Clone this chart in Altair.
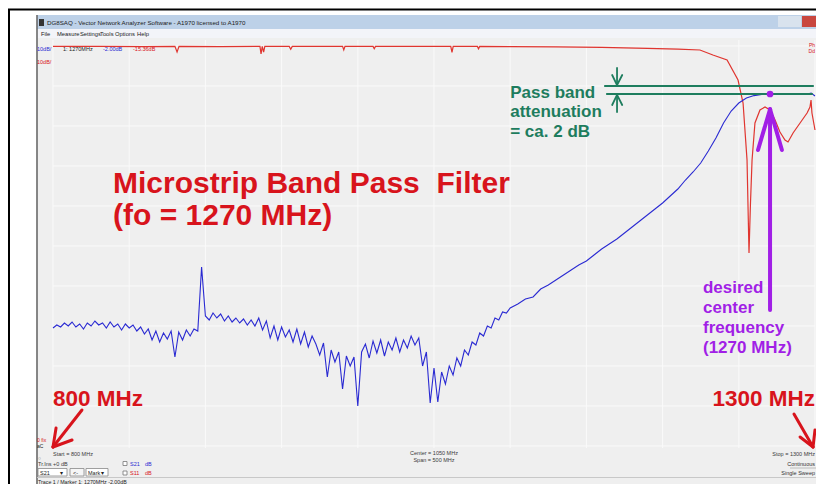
import altair as alt
import pandas as pd

# ---------------- data ----------------
# S21 (transmission), swept 800 ... 1100 MHz in 2.5 MHz steps, dB
S21_LOW_START = 800.0
S21_LOW_STEP = 2.5
s21_low_db = [
    -60.5, -59.75, -60.25, -59.25, -60, -59, -60.25, -59.5, -60.75, -59.25,
    -60, -58.75, -59.75, -59.25, -60.5, -59, -60.25, -59.5, -61, -59.5,
    -60.5, -59.75, -61.25, -60.25, -62, -60.75, -63.5, -61.25, -64, -61.75,
    -63.25, -61.25, -67.75, -61.5, -63.5, -61, -62.5, -60.75, -61.25, -45.25,
    -57.5, -58.5, -56.75, -58, -57, -58.75, -57.5, -59, -58, -59.25,
    -58.25, -59.75, -58.5, -60, -58, -61, -58.75, -63, -60, -63.5,
    -60.25, -62.75, -61, -64, -60.75, -64.5, -61.5, -65.25, -62.5, -64.5,
    -67.25, -64.25, -72.75, -66, -69, -66.5, -75.75, -67.5, -70, -67.75,
    -80, -66.5, -64.5, -68, -63.75, -66.75, -63.5, -67.5, -64, -66,
    -63, -66.5, -63.5, -65.5, -62.5, -64.75, -63, -70, -66.5, -79.25,
    -70.5, -79, -71.5, -74.5, -70, -72.25, -68, -70, -66, -67.25,
    -64, -64.75, -61.75, -62.5, -60, -60.5, -58, -58.5, -56.5, -56.75,
    -55.5,
]
# S21 from 1105 MHz up to the stop frequency
s21_high_freq = [
    1105, 1110, 1115, 1120, 1125, 1130, 1135, 1140, 1145, 1150,
    1155, 1160, 1165, 1170, 1175, 1180, 1185, 1190, 1195, 1200,
    1205, 1210, 1215, 1220, 1225, 1230, 1235, 1240, 1245, 1250,
    1255, 1260, 1265, 1270, 1275, 1280, 1285, 1290, 1295, 1297.5, 1300,
]
s21_high_db = [
    -54.5, -53.25, -52.75, -50.75, -49.75, -48.5, -47.25, -46, -44.75, -43.75,
    -42.25, -40.75, -39.5, -38.25, -36.75, -35.25, -33.75, -32.25, -30.75, -29.25,
    -27.5, -25.75, -23.5, -21.5, -19.25, -16.25, -13, -9.25, -6.25, -4.25,
    -3, -2.4, -2.1, -2, -2, -2, -2, -2, -2, -1.75, -2.5,
]

# S11 (reflection), MHz / dB
s11_freq = [
    800, 830, 860, 880, 881.4, 882.7, 910, 935.8, 936.5, 937.3,
    938.2, 939, 955, 956, 957, 990, 990.8, 991.6, 1010, 1010.8,
    1011.6, 1040, 1061, 1061.8, 1062.6, 1078.5, 1079.2, 1080, 1100, 1130,
    1160, 1190, 1210, 1224.5, 1233, 1242.3, 1249.5, 1252.8, 1255.4, 1256.7,
    1257.6, 1258.7, 1260.6, 1263.9, 1267.2, 1270.5, 1273.8, 1277, 1280.3, 1282.3,
    1285.6, 1290.2, 1294.8, 1296.7, 1297.4, 1298, 1300,
]
s11_db = [
    -0.1, -0.1, -0.15, -0.1, -1.5, -0.1, -0.15, -0.1, -2.0, -0.1,
    -1.5, -0.1, -0.1, -0.8, -0.1, -0.1, -1.0, -0.1, -0.1, -0.7,
    -0.1, -0.1, -0.1, -1.6, -0.1, -0.1, -0.7, -0.1, -0.15, -0.2,
    -0.35, -0.6, -0.8, -1.0, -2.25, -3.5, -8.5, -14.25, -28.5, -51.75,
    -40, -28.5, -19.25, -16, -15.25, -16, -18.5, -21.5, -23.5, -24,
    -21.75, -19.25, -16.75, -15.25, -13.5, -16.75, -21,
]
S11_DISPLAY_OFFSET = 10  # S11 reference line sits one division above S21's

grid_freq = [800, 850, 900, 950, 1000, 1050, 1100, 1150, 1200, 1250, 1300]
grid_db = [10, 0, -10, -20, -30, -40, -50, -60, -70, -80, -90]

marker_freq = [1270.5]
marker_db = [-2.0]

# ---------------- styling ----------------
M = 8                      # page margin (page px -> chart px)
W, H = 808, 476            # chart must fit the 824x492 window inside the margin
FONT = "Liberation Sans"
RED = "#d8141c"
GREEN = "#1e7d5e"
PURPLE = "#a11fe6"
BLUE_TRACE = "#2a2ad2"
RED_TRACE = "#e0352f"
BG = "#efefef"

# 800 MHz -> page x 53, 1300 MHz -> page x 815 ; 0 dB -> page y 86, 4 px/dB
XS = alt.Scale(domain=[770.47, 800 + (W + M - 53) / 1.524], nice=False, zero=False)
YS = alt.Scale(domain=[(86 - (H + M)) / 4, 19.5], nice=False, zero=False)
DUMMY = alt.Data(values=[{"k": 1}])


def prect(x1, y1, x2, y2, color, stroke=None):
    kw = {"color": color}
    if stroke:
        kw.update(stroke=stroke, strokeWidth=0.8)
    return alt.Chart(DUMMY).mark_rect(**kw).encode(
        x=alt.value(x1 - M), x2=alt.value(x2 - M),
        y=alt.value(y1 - M), y2=alt.value(y2 - M))


def pline(x1, y1, x2, y2, color, w=1.0):
    return alt.Chart(DUMMY).mark_rule(color=color, strokeWidth=w).encode(
        x=alt.value(x1 - M), x2=alt.value(x2 - M),
        y=alt.value(y1 - M), y2=alt.value(y2 - M))


def ptext(x, y, s, size=5.5, color="#3a3a3a", weight="normal", align="left"):
    return alt.Chart(DUMMY).mark_text(
        text=s, fontSize=size, color=color, fontWeight=weight, align=align,
        baseline="alphabetic", font=FONT).encode(
        x=alt.value(x - M), y=alt.value(y - M))


def dtext(f, db, s, size, color, align="left"):
    return alt.Chart(DUMMY).mark_text(
        text=s, fontSize=size, color=color, fontWeight="bold", align=align,
        baseline="alphabetic", font=FONT).encode(
        x=alt.XDatum(f, scale=XS, axis=None),
        y=alt.YDatum(db, scale=YS, axis=None))


def segs(rows, color, width):
    df = pd.DataFrame(rows, columns=["f1", "d1", "f2", "d2"])
    return alt.Chart(df).mark_rule(color=color, strokeWidth=width, strokeCap="round").encode(
        x=alt.X("f1:Q", scale=XS, axis=None), x2="f2:Q",
        y=alt.Y("d1:Q", scale=YS, axis=None), y2="d2:Q")


layers = []

# ---------------- window chrome ----------------
layers += [
    pline(3, 9.5, 824, 9.5, "#000000", 2),
    pline(9, 9.5, 9, 492, "#000000", 2),
    prect(37, 15, 824, 29, "#bdd1e8"),
    prect(778, 16, 801, 27, "#d9e3ee"),
    prect(802, 16, 824, 27, "#c9473f"),
    prect(39, 19, 44, 26, "#333333"),
    ptext(47, 25, "DG8SAQ - Vector Network Analyzer Software - A1970 licensed to A1970", 6.2, "#1a1a1a"),
    prect(37, 29, 824, 38, "#f3f4f9"),
    ptext(41, 35.5, "File", 5.8, "#222"),
    ptext(57, 35.5, "Measure", 5.8, "#222"),
    ptext(80, 35.5, "Settings", 5.8, "#222"),
    ptext(100, 35.5, "Tools", 5.8, "#222"),
    ptext(115, 35.5, "Options", 5.8, "#222"),
    ptext(137, 35.5, "Help", 5.8, "#222"),
    prect(37, 38, 824, 492, BG),
    pline(37, 15, 37, 492, "#6a6a6a", 1.6),
]

# ---------------- grid ----------------
gv = alt.Chart(pd.DataFrame({"f": grid_freq})).mark_rule(color="#fafafa", strokeWidth=1).encode(
    x=alt.X("f:Q", scale=XS, axis=None),
    y=alt.YDatum(11.5, scale=YS, axis=None), y2=alt.datum(-90.5))
gh = alt.Chart(pd.DataFrame({"d": grid_db})).mark_rule(color="#fafafa", strokeWidth=1).encode(
    y=alt.Y("d:Q", scale=YS, axis=None),
    x=alt.XDatum(800, scale=XS, axis=None), x2=alt.datum(1300))
layers += [gv, gh]

# ---------------- traces ----------------
s21_freq = [S21_LOW_START + S21_LOW_STEP * i for i in range(len(s21_low_db))] + s21_high_freq
s21 = pd.DataFrame({"f": s21_freq, "db": s21_low_db + s21_high_db})
s11 = pd.DataFrame({"f": s11_freq, "db": s11_db})

red_line = alt.Chart(s11).transform_calculate(
    shown=f"datum.db + {S11_DISPLAY_OFFSET}").mark_line(
    color=RED_TRACE, strokeWidth=1.2).encode(
    x=alt.X("f:Q", scale=XS, axis=None),
    y=alt.Y("shown:Q", scale=YS, axis=None))
blue_line = alt.Chart(s21).mark_line(color=BLUE_TRACE, strokeWidth=1.1).encode(
    x=alt.X("f:Q", scale=XS, axis=None),
    y=alt.Y("db:Q", scale=YS, axis=None))
layers += [red_line, blue_line]

# ---------------- small instrument texts ----------------
layers += [
    ptext(37, 51, "10dB/", 5.5, "#2a2ad2"),
    ptext(37, 64, "10dB/", 5.5, "#d8141c"),
    ptext(63, 51, "1: 1270MHz", 5.5, "#222"),
    ptext(103, 51, "-2.00dB", 5.5, "#2a2ad2"),
    ptext(133, 51, "-15.36dB", 5.5, "#d8141c"),
    ptext(815, 47, "Ph", 5, "#d8141c", align="right"),
    ptext(815, 53, "Dd", 5, "#d8141c", align="right"),
    ptext(37, 442, "0 fix", 5, "#d8141c"),
    ptext(37, 448, "aC", 5, "#222"),
    ptext(53, 456, "Start = 800 MHz", 5.5),
    ptext(434, 455, "Center = 1050 MHz", 5.5, align="center"),
    ptext(434, 461.5, "Span = 500 MHz", 5.5, align="center"),
    ptext(815, 456, "Stop = 1300 MHz", 5.5, align="right"),
    ptext(38, 460, "○", 5, "#555"),
    ptext(38, 465.5, "Tr.Ins  +0 dB", 5.5),
    prect(123, 461.5, 127, 465.5, "#ffffff", "#777"),
    ptext(130, 465.5, "S21", 5.5, "#2a2ad2"),
    ptext(145, 465.5, "dB", 5.5, "#2a2ad2"),
    prect(38, 468.5, 67, 476, "#ffffff", "#888"),
    ptext(40, 474.5, "S21", 5.5, "#222"),
    ptext(60, 474.5, "▾", 5.5, "#222"),
    prect(70, 468.5, 84, 476, "#f6f6f6", "#888"),
    ptext(73, 474.5, "<-", 5.5, "#222"),
    prect(86, 468.5, 108, 476, "#ffffff", "#888"),
    ptext(88, 474.5, "Mark", 5.5, "#222"),
    ptext(101, 474.5, "▾", 5.5, "#222"),
    prect(123, 471, 127, 475, "#ffffff", "#777"),
    ptext(130, 475, "S11", 5.5, "#d8141c"),
    ptext(145, 475, "dB", 5.5, "#d8141c"),
    pline(37, 477.5, 824, 477.5, "#c8c8c8", 1),
    ptext(38, 483.5, "Trace 1 / Marker 1: 1270MHz     -2.00dB", 5.3, "#222"),
    pline(790, 468, 816, 468, "#b0b0b0", 0.8),
    ptext(815, 466, "Continuous", 5.5, "#333", align="right"),
    ptext(815, 475, "Single Sweep", 5.5, "#333", align="right"),
]

# ---------------- annotations ----------------
green_rows = [
    (1162.2, 0.0, 1298.7, 0.0),
    (1163.5, -2.0, 1298.0, -2.0),
    (1170.1, 4.5, 1170.1, 0.2),
    (1166.9, 2.75, 1170.1, 0.2),
    (1173.5, 2.75, 1170.1, 0.2),
    (1170.1, -6.5, 1170.1, -2.2),
    (1166.9, -4.75, 1170.1, -2.2),
    (1173.5, -4.75, 1170.1, -2.2),
]
purple_rows = [
    (1270.5, -56.0, 1270.5, -5.8),
    (1262.6, -16.0, 1270.5, -5.8),
    (1278.3, -16.0, 1270.5, -5.8),
]
red_arrow_rows = [
    (819.0, -81.0, 800.0, -90.25),
    (802.0, -85.5, 800.0, -90.25),
    (812.5, -88.5, 800.0, -90.25),
    (1286.2, -82.0, 1298.7, -90.25),
    (1290.2, -87.75, 1298.7, -90.25),
    (1300.0, -86.0, 1298.7, -90.25),
]
layers += [
    segs(green_rows[:2], GREEN, 2.2),
    segs(green_rows[2:], GREEN, 1.8),
    segs(purple_rows, PURPLE, 4),
    segs(red_arrow_rows, RED, 3),
]
marker = alt.Chart(pd.DataFrame({"f": marker_freq, "db": marker_db})).mark_point(
    filled=True, color=PURPLE, size=45, opacity=1).encode(
    x=alt.X("f:Q", scale=XS, axis=None), y=alt.Y("db:Q", scale=YS, axis=None))
layers.append(marker)

layers += [
    dtext(839.4, -26.75, "Microstrip Band Pass\u00a0 Filter", 30, RED),
    dtext(839.4, -34.75, "(fo = 1270 MHz)", 30, RED),
    dtext(1100.0, -2.9, "Pass band", 17, GREEN),
    dtext(1100.0, -7.75, "attenuation", 17, GREEN),
    dtext(1100.0, -12.75, "= ca. 2 dB", 17, GREEN),
    dtext(1226.5, -51.75, "desired", 17, PURPLE),
    dtext(1226.5, -56.75, "center", 17, PURPLE),
    dtext(1226.5, -61.75, "frequency", 17, PURPLE),
    dtext(1226.5, -66.75, "(1270 MHz)", 17, PURPLE),
    dtext(800.0, -80.0, "800 MHz", 22.5, RED),
    dtext(1300.0, -80.0, "1300 MHz", 22.5, RED, align="right"),
]

chart = alt.layer(*layers).properties(
    width=W, height=H,
    autosize=alt.AutoSizeParams(type="none"),
    padding=0,
    background="#ffffff",
).configure_view(stroke=None)

chart.save("out.html", embed_options={"renderer": "svg", "actions": False})
